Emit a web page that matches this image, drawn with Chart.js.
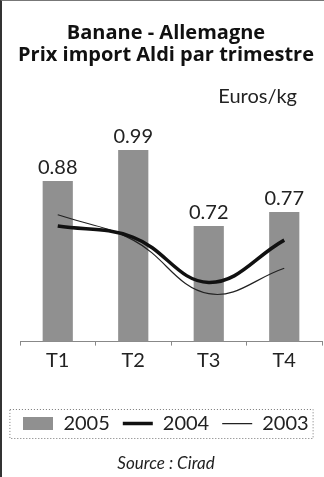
<!DOCTYPE html>
<html>
<head>
<meta charset="utf-8">
<script src="https://cdn.jsdelivr.net/npm/chart.js@4/dist/chart.umd.min.js"></script>
<style>
  html,body{margin:0;padding:0;background:#fff;}
  .wrap{position:relative;width:324px;height:477px;box-sizing:border-box;border-left:2px solid #333;border-top:1px solid #777;}
  canvas{display:block;}
</style>
</head>
<body>
<div class="wrap"><canvas id="c" width="322" height="476"></canvas></div>
<script>
const quarters = ['T1','T2','T3','T4'];
const prix2005 = [0.88, 0.99, 0.72, 0.77];
const prix2004 = [0.72, 0.68, 0.52, 0.67];
const prix2003 = [0.76, 0.67, 0.48, 0.57];
const unit = 'Euros/kg';

const FONT = 'Lato, "Noto Sans", sans-serif';
const TITLE_FONT = '"Open Sans", Lato, sans-serif';
const GRAY = '#909090';

// small gray swatch for the 2005 legend entry
const swatch = document.createElement('canvas');
swatch.width = 30; swatch.height = 13;
const sctx = swatch.getContext('2d');
sctx.fillStyle = GRAY; sctx.fillRect(0,0,30,13);

const extras = {
  id:'extras',
  afterDatasetsDraw(chart){
    const {ctx, chartArea} = chart;
    ctx.save();
    ctx.fillStyle = '#222';
    ctx.font = '20px ' + FONT;
    ctx.textAlign = 'center';
    ctx.textBaseline = 'alphabetic';
    chart.getDatasetMeta(0).data.forEach((bar,i)=>{
      ctx.fillText(prix2005[i].toFixed(2), bar.x, bar.y - 7);
    });
    ctx.textAlign = 'right';
    ctx.fillText(unit, chartArea.right - 25, 102);
    ctx.restore();
  },
  afterDraw(chart){
    const boxes = chart.legend.legendHitBoxes;
    if(!boxes || !boxes.length) return;
    const left = boxes[0].left - 14;
    const right = boxes[boxes.length-1].left + boxes[boxes.length-1].width + 4;
    const cy = boxes[0].top + boxes[0].height/2;
    const ctx = chart.ctx;
    ctx.save();
    ctx.strokeStyle = '#777';
    ctx.lineWidth = 1;
    ctx.setLineDash([1,2]);
    ctx.strokeRect(left + .5, Math.round(cy - 14.5) + .5, right - left, 29);
    ctx.restore();
  }
};

new Chart(document.getElementById('c'), {
  type:'bar',
  data:{
    labels: quarters,
    datasets:[
      { label:'2005', data:prix2005, backgroundColor:GRAY, barPercentage:0.4, categoryPercentage:1, order:3 },
      { type:'line', label:'2004', data:prix2004, borderColor:'#111', borderWidth:3.5, pointRadius:0, tension:0.4, fill:false, order:1 },
      { type:'line', label:'2003', data:prix2003, borderColor:'#222', borderWidth:1.2, pointRadius:0, tension:0.4, fill:false, order:2 }
    ]
  },
  options:{
    responsive:false,
    animation:false,
    layout:{ padding:{ left:8, right:2, top:0, bottom:0 } },
    scales:{
      y:{
        display:true, min:0.31, max:1.0925,
        ticks:{ display:false },
        grid:{ display:false },
        border:{ display:false },
        afterFit(scale){ scale.width = 10; }
      },
      x:{
        grid:{ drawOnChartArea:false, drawTicks:true, tickLength:4, color:'#888', offset:true },
        border:{ display:true, color:'#888', dash:[1,2] },
        ticks:{ color:'#222', font:{ family:FONT, size:20 }, padding:3 },
        afterFit(scale){ scale.height += 25; }
      }
    },
    plugins:{
      title:{
        display:true,
        text:['Banane - Allemagne','Prix import Aldi par trimestre'],
        color:'#111',
        font:{ family:TITLE_FONT, size:20, weight:'bold', lineHeight:1.1 },
        padding:{ top:21, bottom:55 }
      },
      subtitle:{
        display:true,
        position:'bottom',
        text:'Source : Cirad',
        color:'#222',
        font:{ family:FONT, size:17, style:'italic', lineHeight:1.2 },
        padding:{ top:10, bottom:3 }
      },
      legend:{
        position:'bottom',
        labels:{
          color:'#222',
          font:{ family:FONT, size:20 },
          usePointStyle:true,
          pointStyleWidth:30,
          padding:13,
          generateLabels(chart){
            return chart.data.datasets.map((ds,i)=>({
              text: ds.label,
              datasetIndex: i,
              fontColor:'#222',
              pointStyle: i===0 ? swatch : 'line',
              strokeStyle: ds.borderColor || GRAY,
              fillStyle: ds.backgroundColor || ds.borderColor,
              lineWidth: i===0 ? 0 : ds.borderWidth,
              hidden:false
            }));
          }
        }
      },
      tooltip:{ enabled:false }
    }
  },
  plugins:[extras]
});
</script>
</body>
</html>
